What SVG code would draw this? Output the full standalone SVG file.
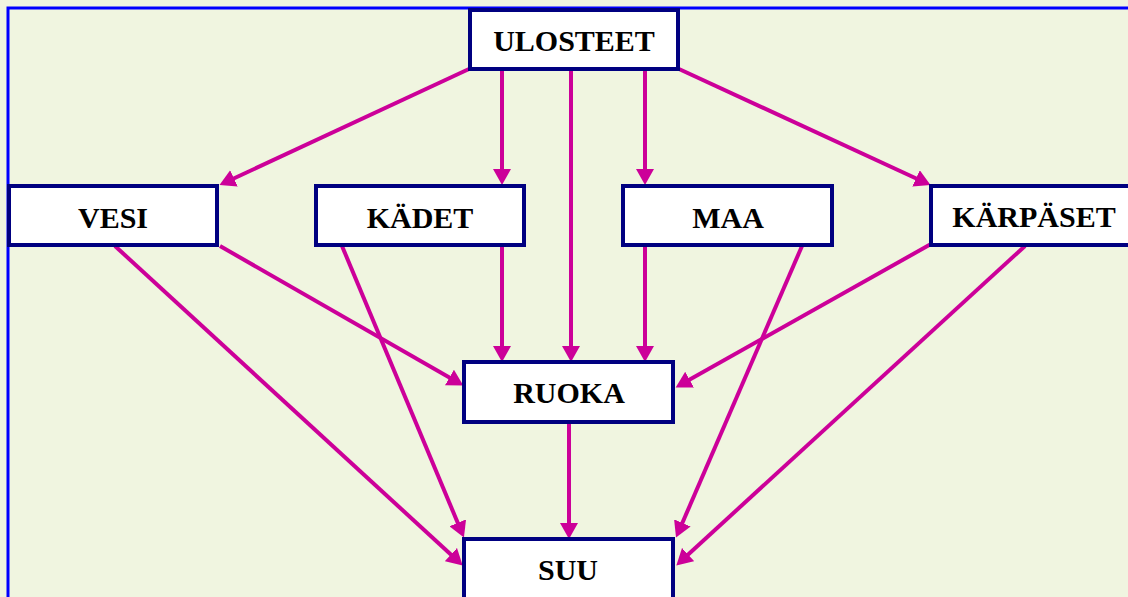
<svg xmlns="http://www.w3.org/2000/svg" width="1128" height="597" viewBox="0 0 1128 597">
<style>
.box{fill:#fff;stroke:#000080;stroke-width:4}
.lbl{font-family:"Liberation Serif","Times New Roman",serif;font-weight:bold;font-size:30px;fill:#000;text-anchor:middle}
.c{stroke:#CC0099;stroke-width:4;fill:none;marker-end:url(#ah)}
</style>
<defs>
<marker id="ah" markerUnits="userSpaceOnUse" markerWidth="17" markerHeight="18" refX="11" refY="9" orient="auto">
<path d="M0,0 L16,9 L0,18 Z" fill="#CC0099"/>
</marker>
</defs>
<rect x="0" y="0" width="1128" height="597" fill="#F0F5E0"/>
<rect x="8" y="8" width="1200" height="700" fill="none" stroke="#0000FF" stroke-width="3"/>
<g id="connectors">
<line class="c" x1="469" y1="69" x2="224" y2="183"/>
<line class="c" x1="502" y1="69" x2="502" y2="180"/>
<line class="c" x1="571" y1="69" x2="571" y2="357"/>
<line class="c" x1="645" y1="69" x2="645" y2="180"/>
<line class="c" x1="679" y1="69" x2="926" y2="183"/>
<line class="c" x1="115" y1="246" x2="459" y2="562"/>
<line class="c" x1="220" y1="246" x2="459" y2="383"/>
<line class="c" x1="342" y1="246" x2="462" y2="533"/>
<line class="c" x1="502" y1="246" x2="502" y2="357"/>
<line class="c" x1="645" y1="246" x2="645" y2="357"/>
<line class="c" x1="802" y1="246" x2="678" y2="533"/>
<line class="c" x1="931" y1="244" x2="680" y2="385"/>
<line class="c" x1="1025" y1="246" x2="680" y2="562"/>
<line class="c" x1="569" y1="423" x2="569" y2="534"/>
</g>
<g id="ulosteet"><rect class="box" x="470" y="10" width="208" height="59"/><text class="lbl" x="574" y="51">ULOSTEET</text></g>
<g id="vesi"><rect class="box" x="9" y="186" width="208" height="59"/><text class="lbl" x="113" y="228">VESI</text></g>
<g id="kadet"><rect class="box" x="316" y="186" width="208" height="59"/><text class="lbl" x="420" y="228">KÄDET</text></g>
<g id="maa"><rect class="box" x="623" y="186" width="209" height="59"/><text class="lbl" x="728" y="228">MAA</text></g>
<g id="karpaset"><rect class="box" x="931" y="186" width="240" height="59"/><text class="lbl" x="1034" y="227">KÄRPÄSET</text></g>
<g id="ruoka"><rect class="box" x="464" y="362" width="209" height="60"/><text class="lbl" x="569" y="403">RUOKA</text></g>
<g id="suu"><rect class="box" x="464" y="539" width="209" height="80"/><text class="lbl" x="568" y="580">SUU</text></g>
</svg>
